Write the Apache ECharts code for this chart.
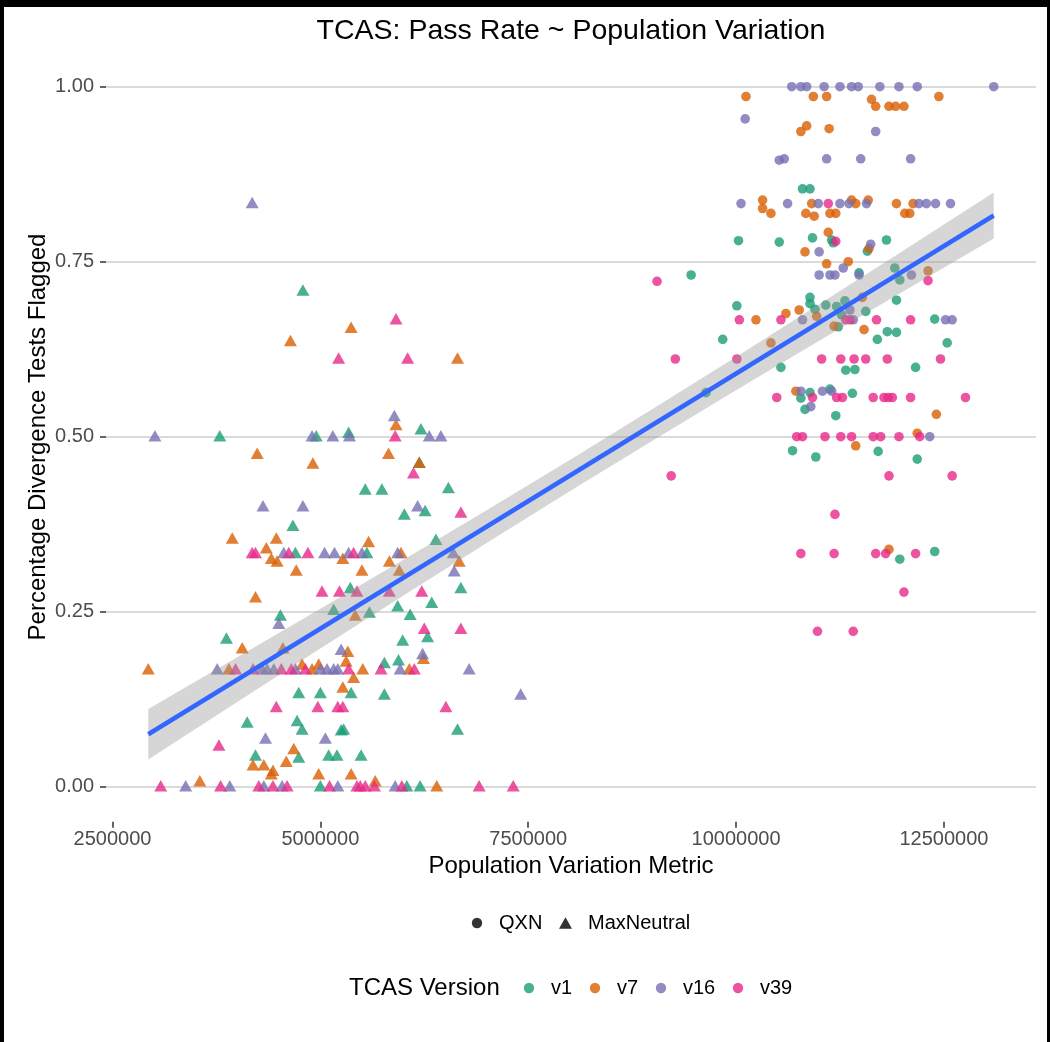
<!DOCTYPE html>
<html>
<head>
<meta charset="utf-8">
<title>TCAS: Pass Rate ~ Population Variation</title>
<script src="https://cdn.jsdelivr.net/npm/echarts@6/dist/echarts.min.js"></script>
<style>
  html, body { margin: 0; padding: 0; background: #fff; }
  #chart { width: 1050px; height: 1042px; }
</style>
</head>
<body>
<div id="chart"></div>
<script>
// Population variation metric is stored in millions; pass rate as a fraction.
const xTicks = [2500000, 5000000, 7500000, 10000000, 12500000];
const yTicks = [0, 0.25, 0.5, 0.75, 1];

const versions = ['v1', 'v7', 'v16', 'v39'];
const methods = ['QXN', 'MaxNeutral'];

// QXN runs (circles)
const v1Qxn = [[10.80,0.854],[10.89,0.854],[10.03,0.78],[10.52,0.778],[10.92,0.784],[9.46,0.731],[10.01,0.687],[10.89,0.699],[10.89,0.69],[10.95,0.682],[11.08,0.688],[9.84,0.639],[10.54,0.599],[9.64,0.563],[10.89,0.563],[10.78,0.555],[10.83,0.539],[11.13,0.568],[10.68,0.48],[10.96,0.471],[11.15,0.781],[11.17,0.777],[11.81,0.781],[11.58,0.765],[11.48,0.734],[11.91,0.741],[11.97,0.724],[11.21,0.686],[11.31,0.694],[11.56,0.679],[11.93,0.695],[11.27,0.674],[11.23,0.657],[12.39,0.668],[11.70,0.639],[11.82,0.65],[11.93,0.649],[12.54,0.634],[11.32,0.595],[11.43,0.596],[12.16,0.599],[11.40,0.562],[11.20,0.53],[11.71,0.479],[12.18,0.468],[11.97,0.325],[12.39,0.336]];
const v7Qxn = [[10.12,0.986],[10.93,0.986],[11.09,0.986],[10.85,0.944],[10.78,0.936],[11.12,0.94],[10.32,0.838],[10.32,0.826],[10.42,0.819],[10.91,0.833],[10.84,0.819],[10.94,0.815],[11.13,0.819],[11.11,0.792],[10.83,0.764],[11.09,0.747],[10.24,0.667],[10.60,0.676],[10.76,0.681],[10.97,0.672],[10.42,0.634],[10.72,0.565],[11.63,0.982],[11.68,0.972],[11.84,0.972],[11.92,0.972],[12.02,0.972],[12.44,0.986],[11.39,0.838],[11.44,0.833],[11.59,0.838],[11.93,0.833],[12.13,0.833],[11.20,0.819],[12.03,0.819],[12.09,0.819],[11.60,0.769],[11.35,0.75],[11.52,0.699],[12.31,0.737],[11.18,0.658],[11.54,0.653],[12.41,0.532],[12.18,0.505],[11.44,0.487],[11.84,0.339]];
const v16Qxn = [[10.67,1],[10.78,1],[10.85,1],[11.06,1],[11.25,1],[11.39,1],[11.47,1],[11.73,1],[11.96,1],[12.18,1],[13.10,1],[10.11,0.954],[10.52,0.895],[10.58,0.897],[11.09,0.897],[11.50,0.897],[12.10,0.897],[11.68,0.936],[10.06,0.833],[10.62,0.833],[10.99,0.833],[11.25,0.833],[11.36,0.833],[11.57,0.833],[12.20,0.833],[12.29,0.833],[12.40,0.833],[12.58,0.833],[11.00,0.764],[11.62,0.775],[11.29,0.741],[11.00,0.731],[11.13,0.731],[11.19,0.731],[11.48,0.731],[12.11,0.731],[11.37,0.681],[10.80,0.667],[11.41,0.667],[12.52,0.667],[12.60,0.667],[10.78,0.565],[11.04,0.565],[11.15,0.565],[10.90,0.543],[12.33,0.5]];
const v39Qxn = [[9.05,0.722],[10.04,0.667],[10.54,0.667],[9.27,0.611],[10.01,0.611],[11.03,0.611],[11.11,0.833],[11.20,0.779],[12.31,0.723],[11.32,0.667],[11.37,0.667],[11.69,0.667],[12.10,0.667],[11.26,0.611],[11.42,0.611],[11.56,0.611],[11.82,0.611],[12.46,0.611],[10.49,0.556],[10.92,0.556],[11.21,0.556],[11.28,0.556],[11.65,0.556],[11.78,0.556],[11.83,0.556],[11.88,0.556],[12.10,0.556],[12.76,0.556],[10.73,0.5],[10.80,0.5],[11.07,0.5],[11.26,0.5],[11.39,0.5],[11.65,0.5],[11.74,0.5],[11.96,0.5],[12.21,0.5],[9.22,0.444],[11.84,0.444],[12.60,0.444],[11.19,0.389],[10.78,0.333],[11.18,0.333],[11.68,0.333],[11.80,0.333],[12.16,0.333],[12.02,0.278],[10.98,0.222],[11.41,0.222]];

// MaxNeutral runs (triangles)
const v1MaxNeutral = [[4.79,0.708],[3.79,0.5],[4.95,0.5],[5.34,0.505],[6.21,0.51],[6.19,0.462],[5.54,0.424],[5.74,0.424],[6.54,0.426],[6.26,0.393],[6.01,0.388],[4.67,0.372],[6.39,0.352],[4.70,0.333],[5.56,0.333],[5.36,0.283],[6.69,0.283],[6.34,0.262],[5.93,0.257],[5.16,0.252],[4.52,0.244],[5.59,0.248],[6.08,0.245],[3.87,0.211],[5.99,0.208],[6.29,0.213],[5.77,0.176],[5.94,0.18],[5.37,0.133],[4.74,0.133],[5.00,0.133],[5.77,0.131],[4.12,0.091],[4.72,0.093],[4.78,0.081],[5.25,0.08],[5.28,0.081],[6.65,0.081],[4.22,0.044],[4.74,0.041],[5.10,0.044],[5.20,0.044],[5.49,0.044],[5.00,0],[6.04,0],[6.20,0]];
const v7MaxNeutral = [[5.37,0.655],[4.64,0.636],[6.65,0.611],[5.91,0.516],[4.24,0.475],[5.82,0.475],[4.91,0.461],[6.19,0.462],[3.94,0.354],[4.47,0.354],[5.58,0.349],[4.35,0.34],[5.97,0.333],[4.41,0.325],[4.48,0.321],[5.27,0.325],[5.83,0.321],[6.67,0.321],[4.71,0.308],[5.50,0.308],[5.95,0.308],[4.22,0.27],[5.42,0.244],[4.06,0.197],[4.55,0.197],[5.33,0.192],[6.24,0.182],[5.31,0.178],[2.93,0.167],[3.90,0.167],[4.78,0.174],[4.90,0.167],[4.98,0.174],[5.51,0.167],[6.07,0.167],[5.40,0.155],[5.27,0.141],[4.68,0.053],[4.19,0.03],[4.32,0.03],[4.59,0.035],[4.43,0.022],[4.41,0.017],[4.98,0.017],[5.37,0.017],[5.66,0.007],[3.55,0.007],[6.40,0]];
const v16MaxNeutral = [[4.18,0.833],[5.89,0.529],[3.01,0.5],[4.90,0.5],[5.15,0.5],[5.35,0.5],[6.31,0.5],[6.45,0.5],[4.31,0.4],[4.79,0.4],[6.17,0.4],[4.56,0.333],[5.05,0.333],[5.17,0.333],[5.34,0.333],[5.50,0.333],[5.93,0.333],[6.60,0.333],[6.61,0.307],[4.50,0.232],[5.25,0.195],[6.23,0.189],[3.76,0.167],[4.30,0.167],[4.36,0.167],[4.44,0.167],[4.70,0.167],[5.00,0.167],[5.08,0.167],[5.16,0.167],[5.21,0.167],[5.96,0.167],[6.79,0.167],[7.41,0.131],[4.34,0.068],[5.06,0.068],[3.38,0],[3.91,0],[4.32,0],[4.54,0],[5.21,0],[5.90,0]];
const v39MaxNeutral = [[5.91,0.667],[5.22,0.611],[6.05,0.611],[5.90,0.5],[6.12,0.447],[6.69,0.391],[4.18,0.333],[4.22,0.333],[4.62,0.333],[4.85,0.333],[5.40,0.333],[5.02,0.278],[5.23,0.278],[5.44,0.278],[5.83,0.278],[6.22,0.278],[6.25,0.225],[6.69,0.225],[3.98,0.167],[4.19,0.167],[4.53,0.167],[4.65,0.167],[4.82,0.167],[5.34,0.167],[5.73,0.167],[6.13,0.167],[4.47,0.113],[4.97,0.113],[5.21,0.113],[5.27,0.113],[6.51,0.113],[3.78,0.058],[3.08,0],[3.80,0],[4.26,0],[4.43,0],[4.60,0],[5.11,0],[5.44,0],[5.48,0],[5.54,0],[5.65,0],[5.98,0],[6.91,0],[7.32,0]];

// Linear fit with its 95% confidence band
const fitX = [2.93, 13.10];
const fitY = [0.0749, 0.8160];
const bandX    = [2.93, 4.0, 5.0, 6.0, 7.0, 8.0, 9.0, 10.0, 11.0, 12.0, 13.10];
const bandLow  = [0.0389, 0.1210, 0.1973, 0.2730, 0.3480, 0.4219, 0.4946, 0.5663, 0.6369, 0.7067, 0.7830];
const bandHigh = [0.1109, 0.1848, 0.2541, 0.3242, 0.3950, 0.4667, 0.5398, 0.6139, 0.6891, 0.7649, 0.8490];

const palette = { v1: '#1B9E77', v7: '#D95F02', v16: '#7570B3', v39: '#E7298A' };
const groups = {
  v1:  { QXN: v1Qxn,  MaxNeutral: v1MaxNeutral },
  v7:  { QXN: v7Qxn,  MaxNeutral: v7MaxNeutral },
  v16: { QXN: v16Qxn, MaxNeutral: v16MaxNeutral },
  v39: { QXN: v39Qxn, MaxNeutral: v39MaxNeutral }
};

const FONT = '"Liberation Sans", Arial, Helvetica, sans-serif';
const M = 1e6;
const toPoints = arr => arr.map(([m, y]) => [m * M, y]);

// x range padded 5% beyond the data, y range padded 5% beyond 0..1
const xMin = 2.4215 * M, xMax = 13.6085 * M;

const scatterSeries = [];
methods.forEach(method => {
  versions.forEach(v => {
    const tri = method === 'MaxNeutral';
    scatterSeries.push({
      name: v + ' ' + method,
      type: 'scatter',
      xAxisIndex: 0, yAxisIndex: 0,
      symbol: tri ? 'triangle' : 'circle',
      symbolSize: tri ? [13, 11.5] : 9.6,
      symbolOffset: tri ? [0, -1] : [0, 0],
      itemStyle: { color: palette[v], opacity: 0.8 },
      emphasis: { disabled: true },
      silent: true,
      z: 2,
      data: toPoints(groups[v][method])
    });
  });
});

const chart = echarts.init(document.getElementById('chart'), null, { renderer: 'canvas' });

const legendText = (x, y, text, size) => ({
  type: 'text', x, y, silent: true,
  style: { text, fontSize: size, fontFamily: FONT, fill: '#000', align: 'left', verticalAlign: 'middle' }
});
const legendDot = (x, y, color) => ({
  type: 'circle', silent: true, shape: { cx: x, cy: y, r: 5.2 },
  style: { fill: color, opacity: 0.8 }
});

chart.setOption({
  animation: false,
  backgroundColor: '#ffffff',
  grid: [
    { left: 106, right: 14, top: 51.7, bottom: 220.3 },   // plotting panel
    { left: 106, right: 14, top: 86.7, bottom: 255.3 },   // y guide: 0 .. 1
    { left: 112.5, right: 106.1, top: 51.7, bottom: 220.3 } // x guide: 2.5M .. 12.5M
  ],
  xAxis: [
    { gridIndex: 0, type: 'value', min: xMin, max: xMax, show: false },
    { gridIndex: 1, type: 'value', min: 0, max: 1, show: false },
    {
      gridIndex: 2, type: 'value', min: xTicks[0], max: xTicks[xTicks.length - 1], interval: 2500000,
      axisLine: { show: false },
      axisTick: { show: true, length: 6, lineStyle: { color: '#333333', width: 1.5 } },
      axisLabel: { color: '#4D4D4D', fontSize: 20, fontFamily: FONT, margin: 8, formatter: v => String(v) },
      splitLine: { show: false }
    }
  ],
  yAxis: [
    { gridIndex: 0, type: 'value', min: -0.05, max: 1.05, show: false },
    {
      gridIndex: 1, type: 'value', min: yTicks[0], max: yTicks[yTicks.length - 1], interval: 0.25,
      axisLine: { show: false },
      axisTick: { show: true, length: 6, lineStyle: { color: '#333333', width: 1.5 } },
      axisLabel: { color: '#4D4D4D', fontSize: 20, fontFamily: FONT, margin: 12, formatter: v => v.toFixed(2) },
      splitLine: { show: true, lineStyle: { color: '#DADADA', width: 2 } }
    },
    { gridIndex: 2, type: 'value', min: 0, max: 1, show: false }
  ],
  series: scatterSeries.concat([
    {
      name: 'confidence band',
      type: 'custom',
      xAxisIndex: 0, yAxisIndex: 0,
      silent: true, z: 3,
      data: bandX.map((m, i) => [m * M, bandLow[i], bandHigh[i]]),
      encode: { x: 0, y: [1, 2] },
      renderItem: (params, api) => {
        if (params.dataIndex !== 0) return null;
        const upper = bandX.map((m, i) => api.coord([m * M, bandHigh[i]]));
        const lower = bandX.map((m, i) => api.coord([m * M, bandLow[i]])).reverse();
        return {
          type: 'polygon',
          shape: { points: upper.concat(lower) },
          style: { fill: '#999999', opacity: 0.4 }
        };
      }
    },
    {
      name: 'linear fit',
      type: 'line',
      xAxisIndex: 0, yAxisIndex: 0,
      silent: true, z: 4,
      symbol: 'none',
      lineStyle: { color: '#3366FF', width: 4.5 },
      data: toPoints(fitX.map((m, i) => [m, fitY[i]]))
    }
  ]),
  graphic: [
    // frame edges
    { type: 'rect', silent: true, shape: { x: 0, y: 0, width: 1050, height: 7 }, style: { fill: '#000' } },
    { type: 'rect', silent: true, shape: { x: 0, y: 0, width: 4, height: 1042 }, style: { fill: '#000' } },
    { type: 'rect', silent: true, shape: { x: 1047, y: 0, width: 3, height: 1042 }, style: { fill: '#000' } },
    // titles
    { type: 'text', x: 571, y: 31, silent: true,
      style: { text: 'TCAS: Pass Rate ~ Population Variation', fontSize: 28.5, fontFamily: FONT, fill: '#000', align: 'center', verticalAlign: 'middle' } },
    { type: 'text', x: 571, y: 866, silent: true,
      style: { text: 'Population Variation Metric', fontSize: 24, fontFamily: FONT, fill: '#000', align: 'center', verticalAlign: 'middle' } },
    { type: 'text', x: 38, y: 437, rotation: Math.PI / 2, silent: true,
      style: { text: 'Percentage Divergence Tests Flagged', fontSize: 24, fontFamily: FONT, fill: '#000', align: 'center', verticalAlign: 'middle' } },
    // method legend
    { type: 'circle', silent: true, shape: { cx: 477, cy: 923, r: 5.2 }, style: { fill: '#333333' } },
    legendText(499, 923, methods[0], 20),
    { type: 'polygon', silent: true, shape: { points: [[559, 928.7], [572, 928.7], [565.5, 917.2]] }, style: { fill: '#333333' } },
    legendText(588, 923, methods[1], 20),
    // version legend
    legendText(349, 988, 'TCAS Version', 24),
    legendDot(529, 988, palette.v1),  legendText(551, 988, versions[0], 20),
    legendDot(595, 988, palette.v7),  legendText(617, 988, versions[1], 20),
    legendDot(661, 988, palette.v16), legendText(683, 988, versions[2], 20),
    legendDot(738, 988, palette.v39), legendText(760, 988, versions[3], 20)
  ]
});
</script>
</body>
</html>
